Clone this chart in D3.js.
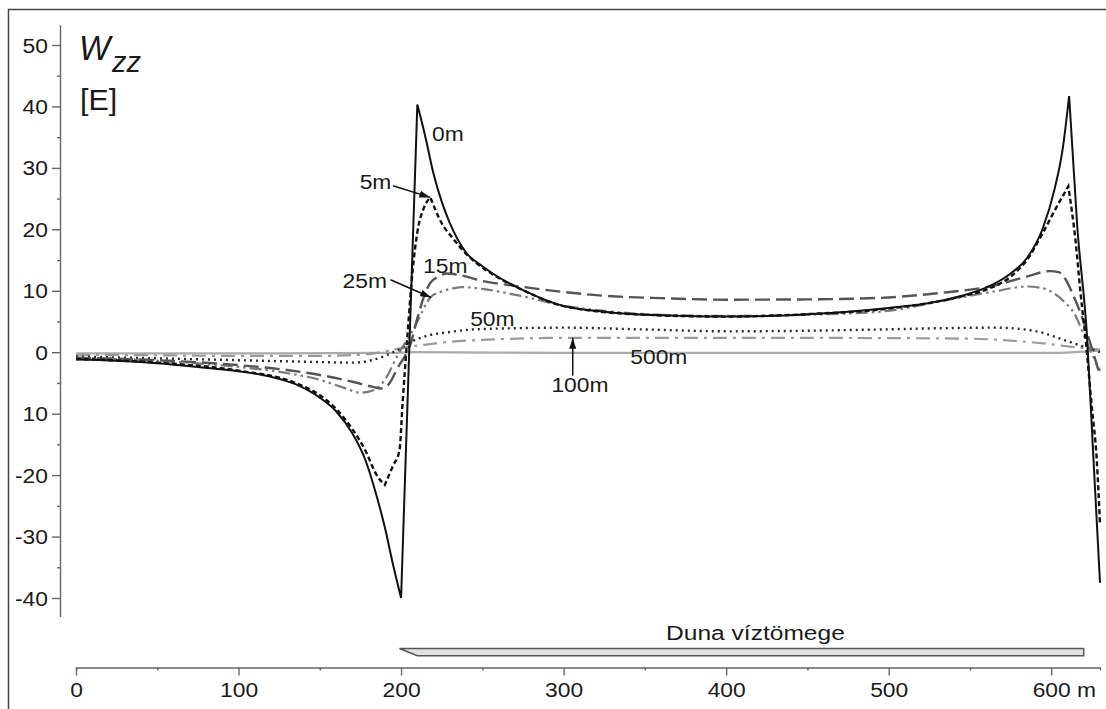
<!DOCTYPE html>
<html>
<head>
<meta charset="utf-8">
<script src="https://cdn.jsdelivr.net/npm/d3@7"></script>
<style>
  body { margin: 0; background: #fff; }
  text { font-family: "Liberation Sans", Arial, sans-serif; fill: #1a1a1a; }
</style>
</head>
<body>
<script>
// values: [distance m, Wzz in E]
var d0m = [[0,-1.2],[25,-1.4],[50,-1.8],[75,-2.4],[100,-3.1],[120,-4.0],[135,-5.2],[150,-7.4],[160,-9.6],[170,-13.2],[178,-17.5],[184,-22.5],[190,-28.5],[195,-34.5],[200,-40],
  [210,40.3],[215,35],[220,29],[225,24.5],[230,21],[240,16.2],[250,14],[260,12.2],[275,10.1],[300,7.5],[325,6.6],[350,6.1],[375,5.9],[400,5.8],[425,5.9],[450,6.2],[475,6.6],[500,7.2],[525,8.0],[545,9.2],[560,10.5],[575,12.8],[585,15.3],[595,20.3],[602,26.5],[607,33],[611,41.7],
  [616,20.5],[622,2.6],[626,-17.5],[630,-37.5]];
var d5m = [[0,-1.1],[50,-1.7],[100,-3.0],[135,-5.0],[150,-7.0],[160,-9.2],[170,-12.5],[178,-16],[185,-20],[190,-21.6],[195,-18.5],[199,-16],[201,-8],[204,3],[207,13],[210,19.5],[214,23.5],[218,25.2],
  [225,21],[232,18.5],[240,16],[250,13.8],[260,12.1],[275,10.1],[300,7.5],[350,6.1],[400,5.8],[450,6.2],[500,7.1],[545,9.1],[560,10.2],[575,12.3],[585,15],[595,19.5],[603,23.5],[610.5,27],
  [615,18],[618,9.7],[621,2.5],[625,-9],[628,-17.5],[630,-28]];
var d15m = [[0,-0.9],[50,-1.3],[100,-2.1],[130,-2.9],[150,-3.7],[170,-4.8],[182,-5.6],[188,-5.9],[193,-5],[198,-2.5],[203,-0.3],[206,1.5],[210,5.5],[214,9],[218,11.3],[223,12.3],[228,12.8],[235,12.6],
  [250,11.6],[273,10.7],[300,9.8],[330,9.1],[360,8.8],[400,8.55],[450,8.6],[495,8.85],[530,9.6],[562,10.7],[585,12.3],[599,13.2],[605,13.0],[610,11.3],[614,9],[618,6.4],[624,1.5],[630,-3.8]];
var d25m = [[0,-0.9],[50,-1.4],[100,-2.4],[130,-3.4],[150,-4.5],[165,-5.8],[175,-6.6],[183,-6.2],[190,-4.5],[196,-1.5],[200,0.5],[205,2.5],[210,5],[218,8.9],[224,9.8],[232,10.4],[238,10.6],
  [250,10.3],[273,9.2],[302,7.5],[330,6.6],[360,6.1],[400,5.9],[450,6.1],[495,6.6],[536,8.5],[565,9.9],[585,10.7],[595,10.4],[601,9.7],[608,8.2],[614,6.4],[622,1.5],[630,-3.0]];
var d50m = [[0,-0.7],[50,-1.0],[100,-1.3],[150,-1.6],[170,-1.7],[182,-1.3],[189,-0.7],[195,0],[200,0.6],[207,1.8],[215,2.6],[230,3.3],[244,3.7],[270,3.9],[300,4.0],[350,3.7],[402,3.4],[450,3.5],
  [495,3.7],[530,3.9],[566,4.0],[591,3.4],[600,2.7],[610,1.8],[620,0.9],[630,0]];
var d100m = [[0,-0.4],[50,-0.5],[100,-0.6],[150,-0.6],[180,-0.3],[195,0.4],[205,0.9],[214,1.2],[230,1.7],[249,2.0],[306,2.35],[402,2.35],[495,2.3],[550,2.2],[580,1.8],[600,1.3],[610,0.95],[620,0.7],[630,0.4]];
var d500m = [[0,-0.2],[100,-0.2],[190,-0.1],[210,0.0],[300,-0.1],[400,-0.1],[500,-0.1],[600,-0.1],[620,0.1],[630,0.3]];

// sharp corners of the curves (distance values where the smooth curve breaks)
var kinks0m = [200, 210, 611];
var kinks5m = [190, 218, 610.5];

var xMajor = [0, 100, 200, 300, 400, 500, 600];
var xMinor = [50, 150, 250, 350, 450, 550];
var yMajor = [50, 40, 30, 20, 10, 0, -10, -20, -30, -40];
var yLabels = ["50", "40", "30", "20", "10", "0", "10", "-20", "-30", "-40"];
var yMinor = [45, 35, 25, 15, 5, -5, -15, -25, -35];
var river = [200, 620];

var width = 1106, height = 709;
var sx = 1.17; // glyphs in the picture are a bit wide

var svg = d3.select("body").append("svg")
    .attr("width", width)
    .attr("height", height);

var defs = svg.append("defs");
defs.append("marker")
    .attr("id", "arrow")
    .attr("markerUnits", "userSpaceOnUse")
    .attr("markerWidth", 12).attr("markerHeight", 8)
    .attr("refX", 11).attr("refY", 4)
    .attr("orient", "auto")
  .append("path")
    .attr("d", "M0,0.5 L11,4 L0,7.5 Z")
    .attr("fill", "#111");

// frame (cut off at right and bottom)
svg.append("rect")
    .attr("x", 8.5).attr("y", 9.5)
    .attr("width", 1200).attr("height", 800)
    .attr("fill", "none").attr("stroke", "#444").attr("stroke-width", 1.5);

var x = d3.scaleLinear().domain([0, 630]).range([76, 1100]);
var y = d3.scaleLinear().domain([-40, 50]).range([598, 45]);

// y axis
var yAx = y.copy().domain([-43, 53.3]).range([y(-43), y(53.3)]);
var gy = svg.append("g").attr("transform", "translate(60,0)")
    .call(d3.axisLeft(yAx).tickValues(yMajor).tickSize(8).tickSizeOuter(0)
      .tickFormat(function(d, i) { return yLabels[i]; }));
svg.append("g").attr("transform", "translate(60,0)")
    .call(d3.axisLeft(yAx).tickValues(yMinor).tickSize(3).tickSizeOuter(0).tickFormat(""))
    .select(".domain").remove();

// x axis
var gx = svg.append("g").attr("transform", "translate(0,667.5)")
    .call(d3.axisBottom(x).tickValues(xMajor).tickSize(8).tickSizeOuter(3));
svg.append("g").attr("transform", "translate(0,667.5)")
    .call(d3.axisBottom(x).tickValues(xMinor).tickSize(3).tickFormat(""))
    .select(".domain").remove();

svg.selectAll(".tick line, .domain")
    .attr("stroke", "#666").attr("stroke-width", 1.4);

gy.selectAll(".tick text")
    .attr("x", -10.3).attr("dy", "0.36em")
    .attr("transform", "scale(" + sx + ",1)")
    .style("font-size", "19.5px").style("font-family", "Liberation Sans, Arial, sans-serif")
    .attr("fill", "#1a1a1a");

gx.selectAll(".tick text")
    .attr("y", 29.5).attr("dy", 0)
    .attr("transform", "scale(" + sx + ",1)")
    .style("font-size", "19.5px").style("font-family", "Liberation Sans, Arial, sans-serif")
    .attr("fill", "#1a1a1a")
    .each(function(d) {
      if (d === 600) {
        d3.select(this).text("600 m").attr("text-anchor", "start").attr("x", -16.3);
      }
    });

// axis title
svg.append("text").attr("transform", "translate(79,60) scale(0.95,1)")
    .style("font-size", "35px").style("font-style", "italic").text("W");
svg.append("text").attr("x", 112).attr("y", 72)
    .style("font-size", "29px").style("font-style", "italic").text("zz");
svg.append("text").attr("transform", "translate(80,110) scale(1.05,1)")
    .style("font-size", "29px").text("[E]");

// river body
var rTop = 648.5, rBot = 655.7;
svg.append("path")
    .attr("d", "M" + x(river[0] - 1) + "," + rTop +
               " L" + x(river[1]) + "," + rTop +
               " L" + x(river[1]) + "," + rBot +
               " L" + x(river[0] + 10) + "," + rBot + " Z")
    .attr("fill", "#e2e2e2").attr("stroke", "#555").attr("stroke-width", 1.4);
svg.append("text")
    .attr("transform", "translate(" + x(418) + ",640) scale(" + sx + ",1)")
    .attr("text-anchor", "middle")
    .style("font-size", "21px").text("Duna víztömege");

// curves
var series = [
  { data: d500m, kinks: [], color: "#aaaaaa", w: 2.2, dash: null },
  { data: d100m, kinks: [], color: "#9a9a9a", w: 2.2, dash: "14,6,3,6" },
  { data: d50m,  kinks: [], color: "#2a2a2a", w: 2.4, dash: "2,4" },
  { data: d25m,  kinks: [], color: "#7a7a7a", w: 2.2, dash: "12,4,2.5,4,2.5,4" },
  { data: d15m,  kinks: [], color: "#555555", w: 2.4, dash: "15,6" },
  { data: d5m,   kinks: kinks5m, color: "#111111", w: 2.4, dash: "5,3" },
  { data: d0m,   kinks: kinks0m, color: "#111111", w: 2, dash: null }
];

var line = d3.line()
    .x(function(d) { return x(d[0]); })
    .y(function(d) { return y(d[1]); })
    .curve(d3.curveMonotoneX);

// smooth pieces joined at the sharp corners
function pathFor(s) {
  var parts = [], cur = [];
  s.data.forEach(function(p) {
    cur.push(p);
    if (s.kinks.indexOf(p[0]) >= 0) { parts.push(cur); cur = [p]; }
  });
  if (cur.length > 1) parts.push(cur);
  var out = "";
  parts.forEach(function(seg, i) {
    var d = line(seg);
    out += i === 0 ? d : "L" + d.slice(1);
  });
  return out;
}

svg.append("g").selectAll("path")
    .data(series)
  .enter().append("path")
    .attr("d", pathFor)
    .attr("fill", "none")
    .attr("stroke", function(s) { return s.color; })
    .attr("stroke-width", function(s) { return s.w; })
    .attr("stroke-dasharray", function(s) { return s.dash; })
    .attr("stroke-linejoin", "miter")
    .attr("stroke-miterlimit", 5);

// labels for the depths
var labels = [
  { t: "0m",   x: 219,   v: 34.3 },
  { t: "5m",   x: 174.5, v: 26.6 },
  { t: "15m",  x: 213.5, v: 12.9 },
  { t: "25m",  x: 164,   v: 10.5 },
  { t: "50m",  x: 242.5, v: 4.2 },
  { t: "500m", x: 341,   v: -1.9 },
  { t: "100m", x: 292.5, v: -6.4 }
];
svg.append("g").selectAll("text")
    .data(labels)
  .enter().append("text")
    .attr("transform", function(d) { return "translate(" + x(d.x) + "," + y(d.v) + ") scale(" + sx + ",1)"; })
    .style("font-size", "19.5px")
    .text(function(d) { return d.t; });

var arrows = [
  [[195, 27.1], [218, 25.2]],
  [[193.5, 11.8], [218.5, 8.9]],
  [[305.6, -3.8], [305.6, 2.35]]
];
svg.append("g").selectAll("line")
    .data(arrows)
  .enter().append("line")
    .attr("x1", function(d) { return x(d[0][0]); })
    .attr("y1", function(d) { return y(d[0][1]); })
    .attr("x2", function(d) { return x(d[1][0]); })
    .attr("y2", function(d) { return y(d[1][1]); })
    .attr("stroke", "#111").attr("stroke-width", 1.5)
    .attr("marker-end", "url(#arrow)");
</script>
</body>
</html>
